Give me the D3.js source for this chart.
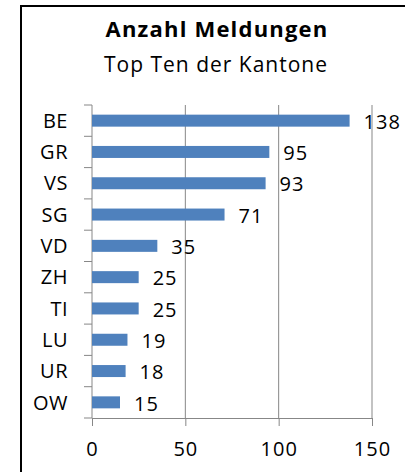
<!DOCTYPE html>
<html>
<head>
<meta charset="utf-8">
<script src="https://cdn.jsdelivr.net/npm/d3@7"></script>
<style>
  body { margin: 0; background: #fff; }
  text { font-family: "Open Sans", sans-serif; fill: #000; }
</style>
</head>
<body>
<script>
// Daten
var kantone = ["BE", "GR", "VS", "SG", "VD", "ZH", "TI", "LU", "UR", "OW"];
var meldungen = [138, 95, 93, 71, 35, 25, 25, 19, 18, 15];
var xTicks = [0, 50, 100, 150];

var width = 405, height = 472;
var plotLeft = 92, plotRight = 372, plotTop = 105, plotBottom = 418;

var svg = d3.select("body").append("svg")
            .attr("width", width)
            .attr("height", height);

// Rahmen
svg.append("path")
   .attr("d", "M21," + height + "V6H" + width)
   .attr("fill", "none")
   .attr("stroke", "#000")
   .attr("stroke-width", 2);

// Titel
svg.append("text")
   .attr("x", 217).attr("y", 37)
   .attr("text-anchor", "middle")
   .style("font-size", "22px")
   .style("letter-spacing", "1.2px")
   .style("font-weight", "bold")
   .text("Anzahl Meldungen");
svg.append("text")
   .attr("x", 216).attr("y", 72)
   .attr("text-anchor", "middle")
   .style("font-size", "21px")
   .style("letter-spacing", "1px")
   .text("Top Ten der Kantone");

var x = d3.scaleLinear().domain([0, 150]).range([plotLeft, plotRight]);
var y = d3.scaleBand().domain(kantone).range([plotTop, plotBottom]);
var barH = 12;

// Gitternetz
svg.selectAll(".grid")
   .data(xTicks.slice(1))
   .enter().append("line")
   .attr("x1", function(d) { return x(d); })
   .attr("x2", function(d) { return x(d); })
   .attr("y1", plotTop).attr("y2", plotBottom)
   .attr("stroke", "#878787");

// x-Achse
var xAxis = svg.append("g")
   .attr("transform", "translate(0," + plotBottom + ")")
   .call(d3.axisBottom(x).tickValues(xTicks).tickSize(8).tickPadding(16));
xAxis.select(".domain").attr("stroke", "#878787");
xAxis.selectAll(".tick line").attr("stroke", "#878787");
xAxis.selectAll("text")
     .style("font-size", "20px")
     .style("letter-spacing", "1px")
     .attr("fill", "#000");

// y-Achse mit Strichen zwischen den Kategorien
svg.append("line")
   .attr("x1", plotLeft).attr("x2", plotLeft)
   .attr("y1", plotTop).attr("y2", plotBottom)
   .attr("stroke", "#878787");
var bounds = kantone.map(function(k) { return y(k); }).concat([plotBottom]);
svg.selectAll(".ytick")
   .data(bounds)
   .enter().append("line")
   .attr("x1", plotLeft - 8).attr("x2", plotLeft)
   .attr("y1", function(d) { return d; })
   .attr("y2", function(d) { return d; })
   .attr("stroke", "#878787");

svg.selectAll(".cat")
   .data(kantone)
   .enter().append("text")
   .attr("x", 68)
   .attr("y", function(d) { return y(d) + y.bandwidth() / 2; })
   .attr("dy", "0.36em")
   .attr("text-anchor", "end")
   .style("font-size", "20px")
   .style("letter-spacing", "0.5px")
   .text(function(d) { return d; });

// Balken
svg.selectAll(".bar")
   .data(meldungen)
   .enter().append("rect")
   .attr("x", x(0))
   .attr("y", function(d, i) { return y(kantone[i]) + y.bandwidth() / 2 - barH / 2; })
   .attr("width", function(d) { return x(d) - x(0); })
   .attr("height", barH)
   .attr("fill", "#4f81bd");

svg.selectAll(".val")
   .data(meldungen)
   .enter().append("text")
   .attr("x", function(d) { return x(d) + 14; })
   .attr("y", function(d, i) { return y(kantone[i]) + y.bandwidth() / 2 + 1; })
   .attr("dy", "0.36em")
   .style("font-size", "20px")
   .style("letter-spacing", "1px")
   .text(function(d) { return d; });
</script>
</body>
</html>
